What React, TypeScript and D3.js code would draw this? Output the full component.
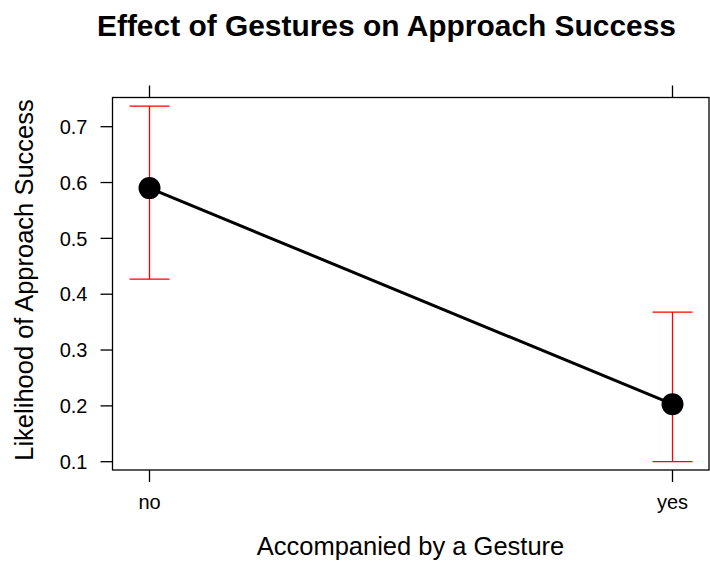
import React from "react";
import * as d3 from "d3";

const categories = ["no", "yes"];
const fitValues = [0.59, 0.203];
const lowerValues = [0.427, 0.1];
const upperValues = [0.737, 0.368];
const yTicks = [0.1, 0.2, 0.3, 0.4, 0.5, 0.6, 0.7];

const W = 710;
const H = 561;
const left = 112.5;
const right = 709;
const top = 97.5;
const bottom = 470;
const font = "'Liberation Sans', Arial, Helvetica, sans-serif";

export default function App() {
  const x = d3.scalePoint<string>().domain(categories).range([149.5, 672.5]);
  const y = d3.scaleLinear().domain([0.1, 0.7]).range([461.7, 126.7]);
  const line = d3
    .line<number>()
    .x((_, i) => x(categories[i]) as number)
    .y((d) => y(d));
  return (
    <svg width={W} height={H} style={{ position: "absolute", left: 0, top: 0 }}>
      <rect width={W} height={H} fill="white" />
      <text x={386.5} y={36} textAnchor="middle" fontFamily={font} fontWeight="bold" fontSize={30} textLength={579} lengthAdjust="spacingAndGlyphs">
        Effect of Gestures on Approach Success
      </text>
      <rect x={left} y={top} width={right - left} height={bottom - top} fill="none" stroke="black" strokeWidth={1.3} />
      {yTicks.map((t) => (
        <g key={t}>
          <line x1={left - 12} x2={left} y1={y(t)} y2={y(t)} stroke="black" strokeWidth={1.3} />
          <text x={left - 25} y={y(t)} dy="0.36em" textAnchor="end" fontFamily={font} fontSize={20}>
            {t.toFixed(1)}
          </text>
        </g>
      ))}
      {categories.map((c) => (
        <g key={c}>
          <line x1={x(c)} x2={x(c)} y1={bottom} y2={bottom + 12} stroke="black" strokeWidth={1.3} />
          <line x1={x(c)} x2={x(c)} y1={top - 12} y2={top} stroke="black" strokeWidth={1.3} />
          <text x={x(c)} y={509} textAnchor="middle" fontFamily={font} fontSize={20}>
            {c}
          </text>
        </g>
      ))}
      {categories.map((c, i) => (
        <g key={"eb" + c} stroke="red" strokeWidth={1.3}>
          <line x1={x(c)} x2={x(c)} y1={y(lowerValues[i])} y2={y(upperValues[i])} />
          <line x1={(x(c) as number) - 20} x2={(x(c) as number) + 20} y1={y(lowerValues[i])} y2={y(lowerValues[i])} />
          <line x1={(x(c) as number) - 20} x2={(x(c) as number) + 20} y1={y(upperValues[i])} y2={y(upperValues[i])} />
        </g>
      ))}
      <path d={line(fitValues) || ""} fill="none" stroke="black" strokeWidth={3} />
      {categories.map((c, i) => (
        <circle key={"pt" + c} cx={x(c)} cy={y(fitValues[i])} r={11} fill="black" />
      ))}
      <text
        transform={`translate(33, 280) rotate(-90)`}
        textAnchor="middle"
        fontFamily={font}
        fontSize={25.5}
      >
        Likelihood of Approach Success
      </text>
      <text x={410.5} y={555} textAnchor="middle" fontFamily={font} fontSize={25.5}>
        Accompanied by a Gesture
      </text>
    </svg>
  );
}
